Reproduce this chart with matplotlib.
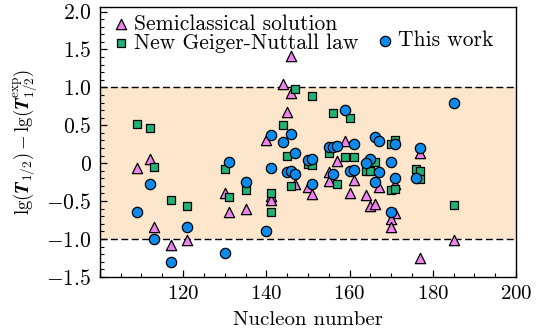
import numpy as np
import matplotlib
matplotlib.use("Agg")
import matplotlib.pyplot as plt
from matplotlib.ticker import MultipleLocator, FuncFormatter

plt.rcParams['font.family'] = 'serif'
plt.rcParams['font.serif'] = ['cmr10', 'DejaVu Serif']
plt.rcParams['mathtext.fontset'] = 'cm'
plt.rcParams['axes.unicode_minus'] = False
plt.rcParams['font.size'] = 10

# semiclassical solution (triangles)
semi_A = [109, 112, 113, 117, 121, 130, 131, 135, 140, 141, 141, 144, 146, 146, 145,
          147, 150, 151, 157, 155, 155, 159, 161, 160, 164, 165, 166, 167, 171, 171,
          170, 170, 177, 177, 185]
semi_dy = [-0.06, 0.06, -0.84, -1.08, -1.01, -0.40, -0.65, -0.61, 0.31, -0.43, -0.48,
           1.05, 1.42, 0.93, 0.67, -0.27, -0.32, -0.41, 0.03, -0.12, -0.23, 0.29, -0.22,
           -0.40, -0.42, -0.56, -0.54, -0.31, -0.28, -0.66, -0.74, -0.84, 0.14, -1.25, -1.02]

# new Geiger-Nuttall law (squares)
gn_A = [109, 112, 113, 117, 121, 130, 131, 135, 141, 141, 144, 147, 151, 156, 160,
        145, 146, 155, 150, 151, 157, 159, 161, 166, 164, 165, 171, 170, 170, 171,
        176, 177, 177, 185]
gn_dy = [0.52, 0.46, -0.05, -0.48, -0.56, -0.08, -0.45, -0.36, -0.40, -0.65, 0.50, 0.98,
         0.89, 0.66, 0.59, 0.10, -0.30, 0.13, -0.01, -0.03, -0.28, 0.08, 0.08, 0.01,
         -0.10, -0.10, 0.31, 0.25, -0.36, -0.34, -0.08, -0.10, -0.21, -0.55]

# this work (circles)
tw_A = [109, 112, 113, 117, 121, 130, 131, 135, 140, 141, 141, 144, 146, 147, 145,
        146, 147, 150, 151, 151, 155, 156, 157, 156, 159, 161, 160, 161, 166, 167,
        171, 165, 164, 170, 167, 171, 166, 170, 177, 176, 185]
tw_dy = [-0.65, -0.28, -1.00, -1.30, -0.84, -1.18, 0.01, -0.25, -0.90, 0.37, -0.06,
         0.28, 0.39, 0.14, -0.11, -0.10, -0.14, 0.04, 0.05, -0.27, 0.22, 0.22, 0.23,
         -0.14, 0.70, 0.25, -0.10, -0.09, 0.34, 0.29, 0.25, 0.06, 0.00, 0.02, -0.11,
         -0.20, -0.25, -0.64, 0.20, -0.20, 0.80]

fig = plt.figure(figsize=(5.37, 3.36), dpi=100)
ax = fig.add_axes([0.186, 0.176, 0.775, 0.803])

ax.axhspan(-1, 1, color='#fde6cb', zorder=0, lw=0)
ax.axhline(1, color='k', lw=1, dashes=(5, 2.5), zorder=1)
ax.axhline(-1, color='k', lw=1, dashes=(5, 2.5), zorder=1)

tri = ax.scatter(semi_A, semi_dy, marker='^', s=55, c='#ee82ee', edgecolors='k',
                 linewidths=0.9, zorder=3)
sq = ax.scatter(gn_A, gn_dy, marker='s', s=30, c='#20b374', edgecolors='k',
                linewidths=0.9, zorder=3)
circ = ax.scatter(tw_A, tw_dy, marker='o', s=55, c='#0d8bec', edgecolors='k',
                  linewidths=0.9, zorder=4)

ax.set_xlim(100, 200)
ax.set_ylim(-1.5, 2.06)
ax.xaxis.set_major_locator(MultipleLocator(20))
ax.xaxis.set_minor_locator(MultipleLocator(5))
ax.yaxis.set_major_locator(MultipleLocator(0.5))
ax.yaxis.set_minor_locator(MultipleLocator(0.1))


def fmt_x(v, pos):
    if v <= 100:
        return ''
    return '$%d$' % v


def fmt_y(v, pos):
    if abs(v) < 1e-9:
        return '$0$'
    return '$%.1f$' % v


ax.xaxis.set_major_formatter(FuncFormatter(fmt_x))
ax.yaxis.set_major_formatter(FuncFormatter(fmt_y))
ax.tick_params(which='both', direction='in', top=False, right=False)
ax.tick_params(axis='y', labelsize=15.5)
ax.tick_params(axis='x', labelsize=15)
ax.tick_params(which='major', length=5, width=0.9, pad=6)
ax.tick_params(which='minor', length=3, width=0.8)
for s in ax.spines.values():
    s.set_linewidth(1.0)

ax.set_xlabel('Nucleon number', fontsize=15, labelpad=6)
ax.set_ylabel(r'$\mathrm{lg}(\boldsymbol{T}_{1/2})-\mathrm{lg}(\boldsymbol{T}_{1/2}^{\mathrm{exp}})$',
              fontsize=13.5, labelpad=5)

leg1 = ax.legend([tri, sq], ['Semiclassical solution', 'New Geiger-Nuttall law'],
                 loc='upper left', bbox_to_anchor=(0.006, 1.02), frameon=False,
                 fontsize=15.5, handlelength=0.5, handletextpad=0.36, labelspacing=-0.05,
                 borderaxespad=0.2)
ax.add_artist(leg1)
ax.legend([circ], ['This work'], loc='upper left', bbox_to_anchor=(0.64, 0.96),
          frameon=False, fontsize=15.5, handlelength=0.5, handletextpad=0.36,
          borderaxespad=0.2)

fig.savefig('out.png', dpi=100)
